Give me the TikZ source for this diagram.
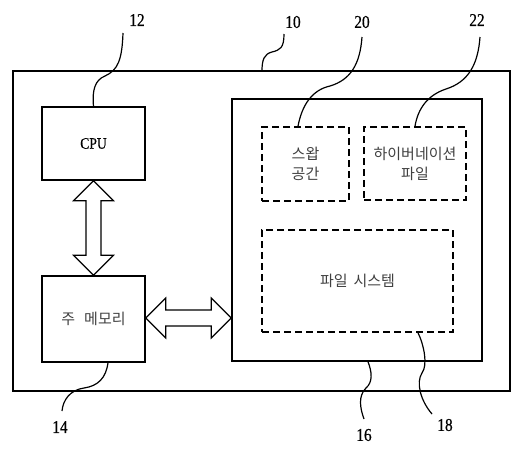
\documentclass[tikz,border=0pt]{standalone}
\usepackage{fontspec}
\setmainfont{Liberation Serif}
\newfontfamily\numfont[FakeStretch=0.85,FakeBold=0.6]{Liberation Serif}
\newfontfamily\krfont{Noto Sans CJK KR}
\usetikzlibrary{calc}
\begin{document}
\begin{tikzpicture}[x=1pt,y=-1pt,line width=1.5pt,
  solidbox/.style={draw,inner sep=0pt},
  dashbox/.style={draw,dash pattern=on 7pt off 4pt,inner sep=0pt},
  numlabel/.style={font=\numfont\fontsize{18}{18}\selectfont,inner sep=1pt},
  krtext/.style={font=\krfont\fontsize{15}{20}\selectfont,text=black!75,align=center},
  leader/.style={line width=1.2pt}]
\useasboundingbox (0,0) rectangle (530,451);
% boxes
\node[solidbox,minimum width=497pt,minimum height=320pt] (outer) at (261.5,231) {};
\node[solidbox,minimum width=103pt,minimum height=73pt] (cpu) at (93.5,143.5) {};
\node[font=\numfont\fontsize{16}{16}\selectfont] (cputxt) at (cpu.center) {CPU};
\node[solidbox,minimum width=103pt,minimum height=86pt] (mem) at (93.5,319) {};
\node[krtext] (memtxt) at (mem.center) {주\hspace{0.6em}메모리};
\node[solidbox,minimum width=250pt,minimum height=262pt] (st) at (357,230) {};
\node[dashbox,minimum width=87pt,minimum height=74pt] (swap) at (305.5,164) {};
\node[krtext] (swaptxt) at (swap.center) {스왑\\공간};
\node[dashbox,minimum width=102pt,minimum height=73pt] (hib) at (415,163.5) {};
\node[krtext] (hibtxt) at (hib.center) {하이버네이션\\파일};
\node[dashbox,minimum width=191pt,minimum height=102pt] (fs) at (357.5,281) {};
\node[krtext] (fstxt) at (fs.center) {파일\hspace{0.4em}시스템};
% double arrows
\coordinate (vt) at (cpu.south);
\coordinate (vb) at (mem.north);
\draw[line width=1.2pt,line join=miter] (vt) -- ($(vt)+(20,20)$) -- ($(vt)+(7.5,20)$) -- ($(vb)+(7.5,-20)$) -- ($(vb)+(20,-20)$) -- (vb)
  -- ($(vb)+(-20,-20)$) -- ($(vb)+(-7.5,-20)$) -- ($(vt)+(-7.5,20)$) -- ($(vt)+(-20,20)$) -- cycle;
\coordinate (hl) at ($(mem.east)+(0,-1)$);
\coordinate (hr) at (hl -| st.west);
\draw[line width=1.2pt] (hl) -- ($(hl)+(20,-20)$) -- ($(hl)+(20,-8)$) -- ($(hr)+(-20,-8)$) -- ($(hr)+(-20,-20)$) -- (hr)
  -- ($(hr)+(-20,20)$) -- ($(hr)+(-20,8)$) -- ($(hl)+(20,8)$) -- ($(hl)+(20,20)$) -- cycle;
% labels
\node[numlabel] (l12) at (137,20) {12};
\node[numlabel] (l10) at (293,22) {10};
\node[numlabel] (l20) at (362,22) {20};
\node[numlabel] (l22) at (477,20) {22};
\node[numlabel] (l14) at (60,427) {14};
\node[numlabel] (l16) at (364,435) {16};
\node[numlabel] (l18) at (445,425) {18};
% leader lines
\coordinate (s12) at (123,33);
\coordinate (s10) at (284,34);
\coordinate (s20) at (362,37);
\coordinate (s22) at (480,37);
\coordinate (e14) at (62,411);
\coordinate (e16) at (364,419);
\coordinate (e18) at (432,414);
\draw[leader] (s12) .. controls (122,60) and (118,70) .. (105,76) .. controls (95,80) and (92,90) .. (cpu.north);
\draw[leader] (s10) .. controls (284,48) and (280,50) .. (272,52) .. controls (264,54) and (262,60) .. (262,71);
\draw[leader] (s20) .. controls (360,65) and (350,80) .. (330,86) .. controls (312,90) and (302,105) .. (swap.north -| 298,0);
\draw[leader] (s22) .. controls (478,65) and (468,82) .. (446,89) .. controls (428,95) and (418,108) .. (hib.north -| 415,0);
\draw[leader] (mem.south -| 108,0) .. controls (106,378) and (98,386) .. (84,388) .. controls (70,390) and (63,400) .. (e14);
\draw[leader] (st.south -| 368,0) .. controls (372,372) and (373,382) .. (366,388) .. controls (358,396) and (360,408) .. (e16);
\draw[leader] (fs.south -| 418,0) .. controls (424,345) and (428,365) .. (422,373) .. controls (416,382) and (420,400) .. (e18);
\end{tikzpicture}
\end{document}
